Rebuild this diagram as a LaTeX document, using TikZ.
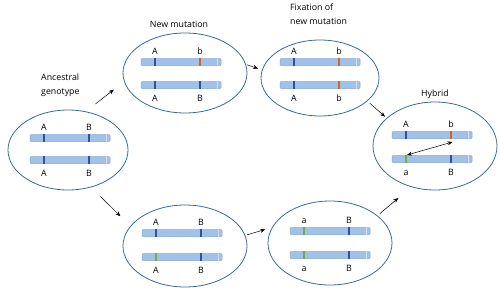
\documentclass[tikz,border=0pt]{standalone}
\usepackage{fontspec}
\setmainfont{Open Sans}
\usetikzlibrary{arrows.meta,shapes.geometric}
\definecolor{rim}{HTML}{3E6A91}
\definecolor{chr}{HTML}{A2C1E8}
\definecolor{chrd}{HTML}{86A8D2}
\definecolor{mkb}{HTML}{2F5597}
\definecolor{mko}{HTML}{D0672A}
\definecolor{mkg}{HTML}{70AD47}
\tikzset{
  pool/.style={ellipse,draw=rim,line width=0.8pt,inner sep=0pt},
  chrom/.style={rectangle,rounded corners=1pt,fill=chr,draw=chrd,line width=0.5pt,minimum width=80pt,minimum height=7pt,inner sep=0pt},
  mk/.style={line width=1.2pt},
  lab/.style={inner sep=0pt,text height=6.3pt,text depth=0pt},
  ttl/.style={inner sep=0pt},
  ar/.style={-{Stealth[length=5pt,width=4pt]},line width=0.5pt},
}
% chromosome: name, x, y, left marker, right marker, left label, right label, label shift
\newcommand{\chromo}[8]{%
  \node[chrom] (#1) at (#2,#3) {};
  \draw[white,opacity=0.5,line width=0.4pt] ([xshift=-4pt]#1.north east) -- ([xshift=-4pt]#1.south east);
  \coordinate (#1-l) at ([xshift=-26pt]#1.center);
  \coordinate (#1-r) at ([xshift=19pt]#1.center);
  \draw[mk,draw=#4] ([xshift=-26pt]#1.north) -- ([xshift=-26pt]#1.south);
  \draw[mk,draw=#5] ([xshift=19pt]#1.north) -- ([xshift=19pt]#1.south);
  \node[lab] (#1-ll) at ([yshift=#8]#1-l) {#6};
  \node[lab] (#1-rl) at ([yshift=#8]#1-r) {#7};
}
\begin{document}
\begin{tikzpicture}[x=1pt,y=-1pt,font=\fontsize{8.8}{14.5}\selectfont]
\useasboundingbox (0,0) rectangle (500,289);
% gene pools
\node[pool,minimum width=120pt,minimum height=80pt] (anc) at (68,150) {};
\node[pool,minimum width=124pt,minimum height=80pt] (newm) at (185,73) {};
\node[pool,minimum width=118pt,minimum height=76pt] (fix) at (320,78) {};
\node[pool,minimum width=124pt,minimum height=88pt] (hyb) at (435,146) {};
\node[pool,minimum width=124pt,minimum height=82pt] (bot) at (185,246) {};
\node[pool,minimum width=124pt,minimum height=84pt] (botr) at (330,243) {};
% titles
\node[ttl,anchor=west,align=left] (tanc) at (41,85) {Ancestral\\genotype};
\node[ttl] (tnew) at (179,24) {New mutation};
\node[ttl,anchor=west,align=left] (tfix) at (290,14) {Fixation of\\new mutation};
\node[ttl] (thyb) at (435,94) {Hybrid};
% chromosomes
\chromo{a1}{70}{138}{mkb}{mkb}{A}{B}{11pt}
\chromo{a2}{70}{160}{mkb}{mkb}{A}{B}{-13pt}
\chromo{n1}{181}{62}{mkb}{mko}{A}{b}{11pt}
\chromo{n2}{181}{85}{mkb}{mkb}{A}{B}{-13pt}
\chromo{f1}{320}{62}{mkb}{mko}{A}{b}{11pt}
\chromo{f2}{320}{85}{mkb}{mko}{A}{b}{-13pt}
\chromo{h1}{432}{135}{mkb}{mko}{A}{b}{11pt}
\chromo{h2}{432}{159}{mkg}{mkb}{a}{B}{-13pt}
\chromo{b1}{182}{233}{mkb}{mkb}{A}{B}{11pt}
\chromo{b2}{182}{257}{mkg}{mkb}{A}{B}{-13pt}
\chromo{r1}{330}{231}{mkg}{mkb}{a}{B}{11pt}
\chromo{r2}{330}{255}{mkg}{mkb}{a}{B}{-13pt}
% arrows
\draw[ar,shorten <=12pt,shorten >=13pt] (anc.65) -- (newm.188);
\draw[ar,shorten <=13pt,shorten >=14pt] (anc.-58) -- (bot.160);
\draw[ar,shorten <=1pt,shorten >=4pt] (newm.8) -- (fix.172);
\draw[ar,shorten <=3pt,shorten >=2pt] (fix.-26) -- (hyb.150);
\draw[ar,shorten <=2pt,shorten >=7pt] (bot.10) -- (botr.165);
\draw[ar,shorten <=3pt,shorten >=17pt] (botr.30) -- (hyb.240);
\draw[ar,{Stealth[length=5pt,width=4pt]}-{Stealth[length=5pt,width=4pt]}] ([shift={(1,-4)}]h2-l) -- ([shift={(1.5,7)}]h1-r);
\end{tikzpicture}
\end{document}
